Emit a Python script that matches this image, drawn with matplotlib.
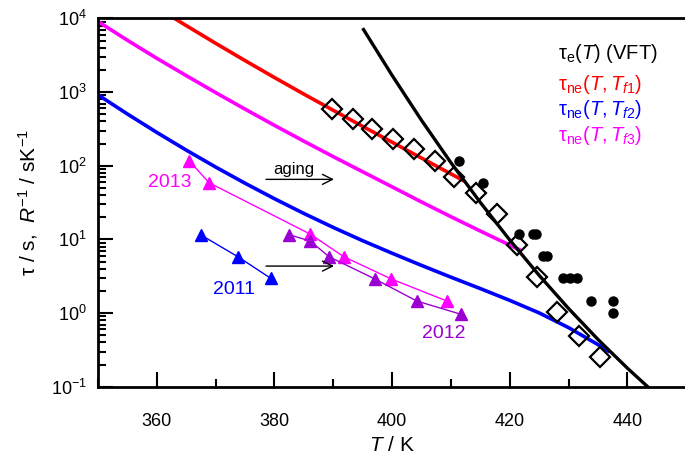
import matplotlib
matplotlib.use("Agg")
import matplotlib.pyplot as plt
from matplotlib.ticker import MultipleLocator, LogLocator

plt.rcParams["font.family"] = ["Liberation Sans", "DejaVu Sans"]
plt.rcParams["mathtext.fontset"] = "custom"
plt.rcParams["mathtext.rm"] = "Liberation Sans"
plt.rcParams["mathtext.it"] = "Liberation Sans:italic"
plt.rcParams["mathtext.bf"] = "Liberation Sans:bold"

# equilibrium relaxation times (diamonds) and R^-1 data (filled circles)
T_eq = [389.8, 393.3, 396.6, 400.2, 403.7, 407.3, 410.6, 414.3, 417.8, 421.3, 424.6, 428.1, 431.7, 435.3]
tau_eq = [588, 430, 315, 230, 171, 116, 71, 42.6, 22.3, 8.4, 3.12, 1.04, 0.489, 0.256]

T_R = [411.3, 415.4, 421.65, 423.9, 424.5, 425.7, 426.3, 429.1, 430.2, 431.4, 433.8, 437.5, 437.5]
R_inv = [117, 58.8, 11.8, 11.8, 11.8, 5.95, 5.95, 3.02, 3.02, 3.02, 1.47, 1.47, 0.99]

# model curves (T in K, log10 tau)
T_vft = [395, 400, 405, 410, 415, 420, 425, 430, 435, 440, 445]
logtau_vft = [3.868, 3.228, 2.618, 2.043, 1.503, 0.993, 0.513, 0.063, -0.357, -0.747, -1.112]

T_f1 = [360, 365, 370, 375, 380, 385, 390, 395, 400, 405, 410, 412.3]
logtau_f1 = [4.148, 3.903, 3.663, 3.428, 3.198, 2.973, 2.753, 2.535, 2.320, 2.105, 1.890, 1.791]

T_f2 = [350, 355, 360, 365, 370, 375, 380, 385, 390, 395, 400, 405, 410, 415, 420, 425, 430, 435, 437]
logtau_f2 = [2.963, 2.703, 2.453, 2.213, 1.983, 1.763, 1.553, 1.353, 1.163, 0.983, 0.813,
             0.648, 0.488, 0.333, 0.173, 0.003, -0.197, -0.427, -0.527]

T_f3 = [350, 355, 360, 365, 370, 375, 380, 385, 390, 395, 400, 405, 410, 415, 420, 422]
logtau_f3 = [3.959, 3.704, 3.459, 3.224, 2.994, 2.769, 2.549, 2.334, 2.124, 1.919, 1.714,
             1.509, 1.309, 1.114, 0.924, 0.848]

# aging series (triangles)
T_2011 = [367.5, 373.8, 379.4]
tau_2011 = [11.5, 5.82, 2.96]
T_2012 = [382.5, 386.1, 389.3, 397.1, 404.2, 411.7]
tau_2012 = [11.6, 9.5, 5.82, 2.90, 1.46, 0.964]
T_2013 = [365.5, 368.9, 386.1, 391.8, 399.9, 409.3]
tau_2013 = [117, 58.8, 11.8, 5.82, 2.90, 1.46]

RED = "#ff0000"
BLUE = "#0000ff"
MAGENTA = "#ff00ff"
PURPLE = "#9b00d3"


def unlog(values):
    return [10.0 ** v for v in values]


fig = plt.figure(figsize=(6.85, 4.61), dpi=100)
ax = fig.add_axes([0.143, 0.161, 0.857, 0.799])

ax.plot(T_f1, unlog(logtau_f1), color=RED, lw=2.6, solid_capstyle="butt")
ax.plot(T_f3, unlog(logtau_f3), color=MAGENTA, lw=2.6, solid_capstyle="butt")
ax.plot(T_f2, unlog(logtau_f2), color=BLUE, lw=2.6, solid_capstyle="butt")
ax.plot(T_vft, unlog(logtau_vft), color="black", lw=2.4, solid_capstyle="butt")

ax.plot(T_2011, tau_2011, color=BLUE, lw=1.0, marker="^", ms=8, mec=BLUE, mfc=BLUE)
ax.plot(T_2013, tau_2013, color=MAGENTA, lw=1.0, marker="^", ms=8, mec=MAGENTA, mfc=MAGENTA)
ax.plot(T_2012, tau_2012, color=PURPLE, lw=1.0, marker="^", ms=8, mec=PURPLE, mfc=PURPLE)

ax.plot(T_R, R_inv, ls="none", marker="o", ms=6.5, color="black")
ax.plot(T_eq, tau_eq, ls="none", marker="D", ms=10, mfc="none", mec="black", mew=1.6)

ax.set_yscale("log")
ax.set_xlim(350, 449.8)
ax.set_ylim(0.1, 1e4)

ax.xaxis.set_major_locator(MultipleLocator(20))
ax.xaxis.set_minor_locator(MultipleLocator(10))
ax.yaxis.set_major_locator(LogLocator(base=10))
ax.yaxis.set_minor_locator(LogLocator(base=10, subs=range(2, 10)))

ax.spines["right"].set_visible(False)
for side in ["left", "bottom", "top"]:
    ax.spines[side].set_linewidth(2.0)
ax.tick_params(which="both", direction="in", top=False, right=False, width=1.5)
ax.tick_params(which="major", length=11, labelsize=13)
ax.tick_params(which="minor", length=5.5)
ax.tick_params(axis="x", which="major", pad=19)
ax.tick_params(axis="y", which="major", pad=8)

ax.set_xlabel(r"$\mathit{T}$ / K", fontsize=15, labelpad=4)
ax.set_ylabel(r"τ / s,  $\mathit{R}^{-1}$ / sK$^{-1}$", fontsize=15, labelpad=8)

# annotations
ax.text(383.3, 90.2, "aging", fontsize=12, ha="center", va="center")
arrow = dict(arrowstyle="->", color="black", lw=1.0, mutation_scale=18)
ax.annotate("", xy=(390.6, 65.4), xytext=(378.1, 65.4), arrowprops=arrow)
ax.annotate("", xy=(390.6, 4.35), xytext=(378.1, 4.35), arrowprops=arrow)

ax.text(362.2, 60.1, "2013", color=MAGENTA, fontsize=14, ha="center", va="center")
ax.text(373.2, 2.12, "2011", color=BLUE, fontsize=14, ha="center", va="center")
ax.text(408.8, 0.537, "2012", color=PURPLE, fontsize=14, ha="center", va="center")

legend_x = 0.784
legend_size = 14.5
ax.text(legend_x, 0.891, r"$\mathrm{τ}_\mathrm{e}(\mathit{T})$ (VFT)", color="black",
        fontsize=legend_size, transform=ax.transAxes, va="baseline")
ax.text(legend_x, 0.806, r"$\mathrm{τ}_\mathrm{ne}(\mathit{T},\mathit{T}_\mathit{f1})$", color=RED,
        fontsize=legend_size, transform=ax.transAxes, va="baseline")
ax.text(legend_x, 0.738, r"$\mathrm{τ}_\mathrm{ne}(\mathit{T},\mathit{T}_\mathit{f2})$", color=BLUE,
        fontsize=legend_size, transform=ax.transAxes, va="baseline")
ax.text(legend_x, 0.668, r"$\mathrm{τ}_\mathrm{ne}(\mathit{T},\mathit{T}_\mathit{f3})$", color=MAGENTA,
        fontsize=legend_size, transform=ax.transAxes, va="baseline")

fig.savefig("out.png", dpi=100)
